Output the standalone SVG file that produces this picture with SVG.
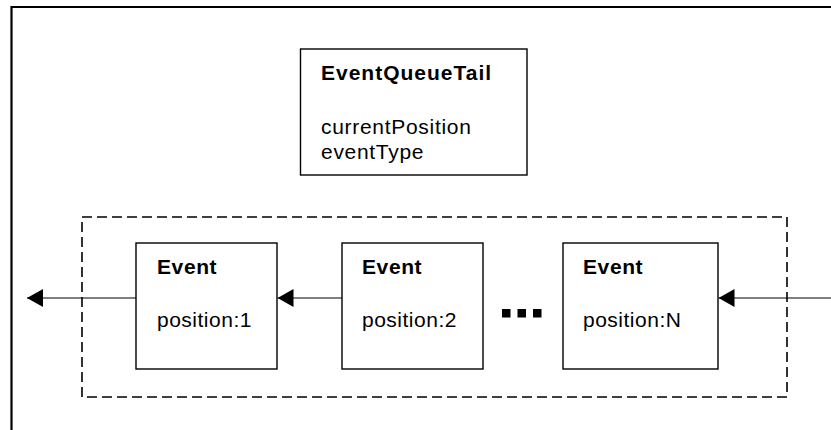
<svg xmlns="http://www.w3.org/2000/svg" width="831" height="430" viewBox="0 0 831 430">
<defs>
<style>
.frame{fill:none;stroke:#000;stroke-width:2.2}
.box{fill:#fff;stroke:#000;stroke-width:1.4}
.group{fill:none;stroke:#000;stroke-width:1.6;stroke-dasharray:10,5}
.conn{fill:none;stroke:#000;stroke-width:1.2}
.title{font-family:"Liberation Sans",Arial,sans-serif;font-size:21px;font-weight:bold;fill:#000;letter-spacing:0.6px}
.attr{font-family:"Liberation Sans",Arial,sans-serif;font-size:21px;fill:#000;letter-spacing:0.5px}
</style>
<marker id="arrow" markerWidth="16" markerHeight="18" refX="16" refY="9" orient="auto" markerUnits="userSpaceOnUse">
<path d="M0,0 L16,9 L0,18 Z" fill="#000"/>
</marker>
</defs>
<rect width="831" height="430" fill="#fff"/>
<path class="frame" d="M11.5,430 V7 H831"/>
<rect id="group" class="group" x="82" y="217" width="705" height="180"/>
<g id="EventQueueTail">
<rect class="box" x="300.5" y="49" width="226.5" height="126"/>
<text class="title" x="321" y="80" style="letter-spacing:1px">EventQueueTail</text>
<text class="attr" x="321" y="134" style="letter-spacing:0.7px">currentPosition</text>
<text class="attr" x="321" y="159" style="letter-spacing:0.7px">eventType</text>
</g>
<g id="event1">
<rect class="box" x="136" y="243" width="141" height="126"/>
<text class="title" x="157" y="274">Event</text>
<text class="attr" x="157" y="327">position:1</text>
</g>
<g id="event2">
<rect class="box" x="342" y="243" width="141" height="126"/>
<text class="title" x="362" y="274">Event</text>
<text class="attr" x="362" y="327">position:2</text>
</g>
<g id="ellipsis">
<rect x="502" y="309" width="8.5" height="8.5" fill="#000"/>
<rect x="517.5" y="309" width="8.5" height="8.5" fill="#000"/>
<rect x="533" y="309" width="8.5" height="8.5" fill="#000"/>
</g>
<g id="eventN">
<rect class="box" x="563" y="243" width="155" height="126"/>
<text class="title" x="583" y="274">Event</text>
<text class="attr" x="583" y="327">position:N</text>
</g>
<g id="connectors">
<line class="conn" x1="136" y1="298" x2="27" y2="298" marker-end="url(#arrow)"/>
<line class="conn" x1="342" y1="298" x2="277.5" y2="298" marker-end="url(#arrow)"/>
<line class="conn" x1="831" y1="298" x2="718.5" y2="298" marker-end="url(#arrow)"/>
</g>
</svg>
